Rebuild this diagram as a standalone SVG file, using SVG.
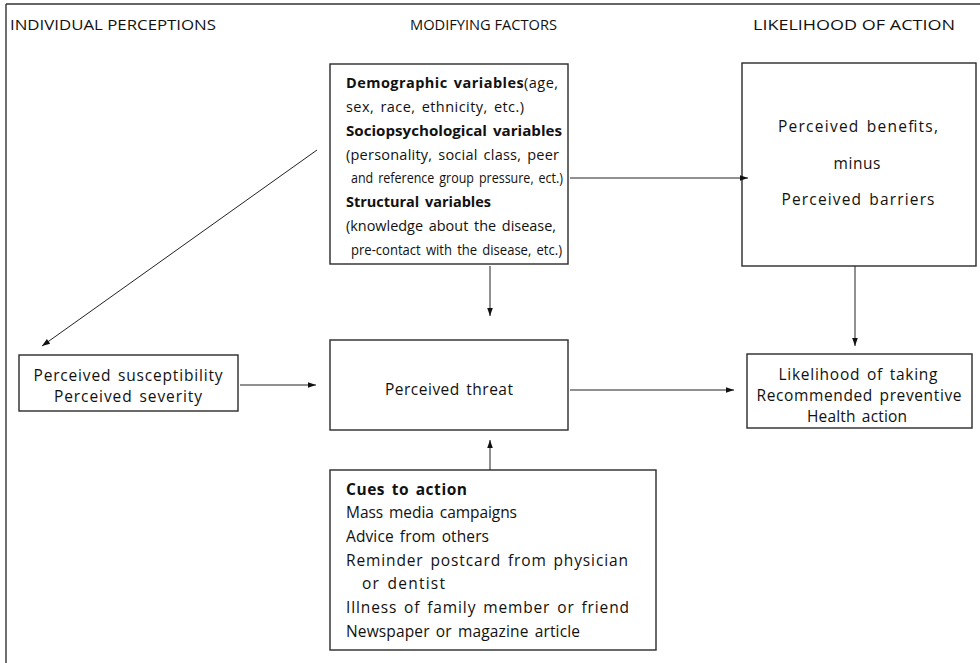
<svg xmlns="http://www.w3.org/2000/svg" width="980" height="663" viewBox="0 0 980 663">
<defs>
<style>
text{font-family:"Open Sans","Noto Sans","DejaVu Sans",sans-serif;font-size:15.5px;fill:#111;word-spacing:2px}
.h{font-size:15px;word-spacing:0}
.m{font-size:14.5px}
.b{font-weight:bold}
.c{text-anchor:middle}
rect{fill:#fff;stroke:#2a2a2a;stroke-width:1.4}
.ln{stroke:#222;stroke-width:1;fill:none}
.fr{stroke:#333;stroke-width:1.4;fill:none}
</style>
<marker id="ah" viewBox="0 0 10 10" refX="10" refY="5" markerWidth="10" markerHeight="8" markerUnits="userSpaceOnUse" orient="auto"><path d="M0,1.5 L10,5 L0,8.5 Z" fill="#111"/></marker>
</defs>
<g id="frame">
<line class="fr" x1="6" y1="4" x2="980" y2="4"/>
<line class="fr" x1="6" y1="4" x2="6" y2="663"/>
</g>
<g id="headers">
<text class="h" x="10" y="30" textLength="206" lengthAdjust="spacingAndGlyphs">INDIVIDUAL PERCEPTIONS</text>
<text class="h" x="410" y="30" textLength="147" lengthAdjust="spacingAndGlyphs">MODIFYING FACTORS</text>
<text class="h" x="753" y="30" textLength="202" lengthAdjust="spacingAndGlyphs">LIKELIHOOD OF ACTION</text>
</g>
<g id="modifying">
<rect x="330" y="64" width="238" height="200"/>
<text class="m" x="346" y="88" textLength="212" lengthAdjust="spacing"><tspan class="b">Demographic variables</tspan>(age,</text>
<text class="m" x="346" y="112" textLength="178" lengthAdjust="spacing">sex, race, ethnicity, etc.)</text>
<text class="m b" x="346" y="136" textLength="216" lengthAdjust="spacingAndGlyphs">Sociopsychological variables</text>
<text class="m" x="346" y="160" textLength="213" lengthAdjust="spacing">(personality, social class, peer</text>
<text class="m" x="351" y="183" textLength="212" lengthAdjust="spacingAndGlyphs">and reference group pressure, ect.)</text>
<text class="m b" x="346" y="207" textLength="145" lengthAdjust="spacing">Structural variables</text>
<text class="m" x="346" y="231" textLength="210" lengthAdjust="spacingAndGlyphs">(knowledge about the disease,</text>
<text class="m" x="351" y="255" textLength="211" lengthAdjust="spacingAndGlyphs">pre-contact with the disease, etc.)</text>
</g>
<g id="benefits">
<rect x="742" y="63" width="234" height="203"/>
<text class="c" x="858" y="132" textLength="160" lengthAdjust="spacing">Perceived benefits,</text>
<text class="c" x="857" y="169" textLength="47" lengthAdjust="spacing">minus</text>
<text class="c" x="858" y="205" textLength="153" lengthAdjust="spacing">Perceived barriers</text>
</g>
<g id="susceptibility">
<rect x="19" y="355" width="219" height="56"/>
<text class="c" x="128" y="381" textLength="189" lengthAdjust="spacing">Perceived susceptibility</text>
<text class="c" x="128" y="402" textLength="148" lengthAdjust="spacing">Perceived severity</text>
</g>
<g id="threat">
<rect x="330" y="340" width="238" height="90"/>
<text class="c" x="449" y="395" textLength="128" lengthAdjust="spacing">Perceived threat</text>
</g>
<g id="likelihood">
<rect x="747" y="354" width="225" height="74"/>
<text class="c" x="858" y="380" textLength="159" lengthAdjust="spacing">Likelihood of taking</text>
<text class="c" x="859" y="401" textLength="205" lengthAdjust="spacing">Recommended preventive</text>
<text class="c" x="857" y="422" textLength="100" lengthAdjust="spacing">Health action</text>
</g>
<g id="cues">
<rect x="330" y="470" width="326" height="180"/>
<text x="346" y="495" class="b" textLength="121" lengthAdjust="spacing">Cues to action</text>
<text x="346" y="518" textLength="171" lengthAdjust="spacing">Mass media campaigns</text>
<text x="346" y="542" textLength="143" lengthAdjust="spacing">Advice from others</text>
<text x="346" y="566" textLength="282" lengthAdjust="spacing">Reminder postcard from physician</text>
<text x="362" y="589" textLength="83" lengthAdjust="spacing">or dentist</text>
<text x="346" y="613" textLength="283" lengthAdjust="spacing">Illness of family member or friend</text>
<text x="346" y="637" textLength="234" lengthAdjust="spacing">Newspaper or magazine article</text>
</g>
<g id="connectors">
<line class="ln" x1="317" y1="150" x2="42" y2="346" marker-end="url(#ah)"/>
<line class="ln" x1="570" y1="178" x2="748" y2="178" marker-end="url(#ah)"/>
<line class="ln" x1="490" y1="266" x2="490" y2="316" marker-end="url(#ah)"/>
<line class="ln" x1="240" y1="385" x2="316" y2="385" marker-end="url(#ah)"/>
<line class="ln" x1="570" y1="390" x2="734" y2="390" marker-end="url(#ah)"/>
<line class="ln" x1="855" y1="266" x2="855" y2="346" marker-end="url(#ah)"/>
<line class="ln" x1="490" y1="470" x2="490" y2="440" marker-end="url(#ah)"/>
</g>
</svg>
